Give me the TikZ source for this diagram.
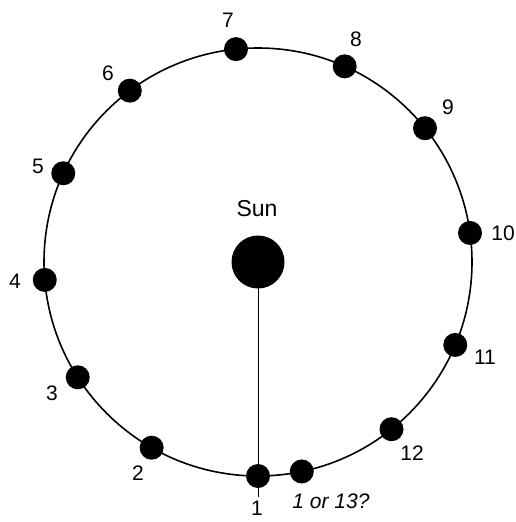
\documentclass[tikz,border=0pt]{standalone}
\usepackage{fontspec}
\setmainfont{Liberation Sans}
\usetikzlibrary{positioning}

\begin{document}
\begin{tikzpicture}[x=1pt, y=-1pt,
    planet/.style={circle, fill=black, inner sep=0pt, minimum size=24pt},
    sun/.style={circle, fill=black, inner sep=0pt, minimum size=53pt},
    num/.style={inner sep=0pt, font=\fontsize{21}{24}\selectfont}]
  \useasboundingbox (0,0) rectangle (515,522);
  \coordinate (c) at (258,262);
  \coordinate (bot) at (258,497);
  % orbit
  \draw[line width=1.6pt] (c) circle (214pt);
  \draw[line width=1pt] (c) -- (bot);
  \node[sun] (sun) at (c) {};
  \node[num, font=\fontsize{23}{26}\selectfont] (sunlab) at (257,209) {Sun};
  % planets with their numbers
  \foreach \n/\ang/\lx/\ly in {1/270/257/508, 2/240.2/138/473, 3/212.6/52/393,
      4/184.8/15/281, 5/155.5/38/166, 6/126.8/108/73, 7/95.9/228/20,
      8/66.1/356/39, 9/38.7/448/107, 10/7.8/503/233, 11/337.2/485/357,
      12/308.6/412/453} {
    \node[planet] (p\n) at ([shift={(\ang:214pt)}]c) {};
    \node[num] (l\n) at (\lx,\ly) {\n};
  }
  \node[planet] (p13) at ([shift={(281.8:214pt)}]c) {};
  \node[num, font=\fontsize{21}{24}\selectfont\itshape] (l13) at (331,501) {1 or 13?};
\end{tikzpicture}
\end{document}
